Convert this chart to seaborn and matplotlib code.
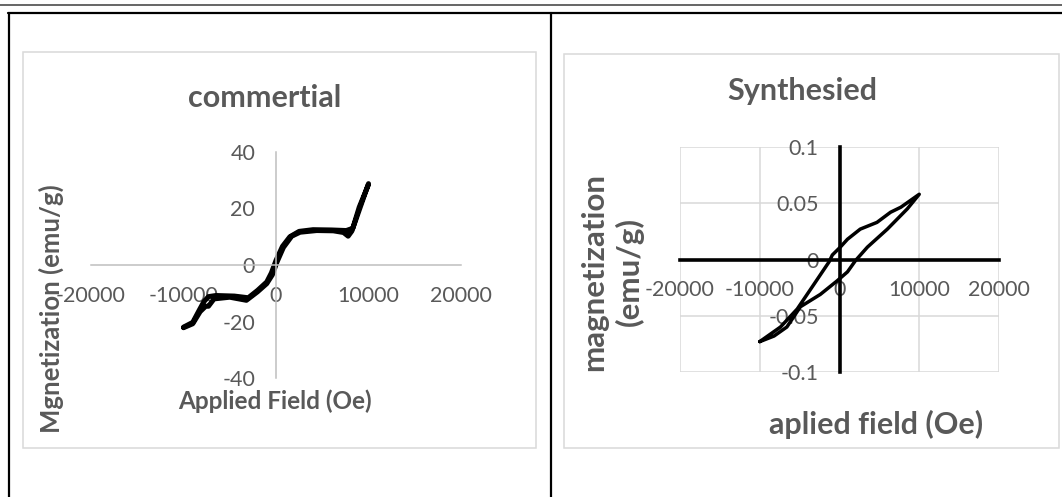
import matplotlib
matplotlib.use("Agg")
import matplotlib.pyplot as plt
import numpy as np
import pandas as pd
import seaborn as sns
from matplotlib.lines import Line2D
from matplotlib.patches import Rectangle

# ---- commercial sample: M-H loop (field in Oe, magnetization in emu/g) ----
field_up_c = [-10000, -9000, -8200, -7600, -7300, -6700, -5000, -3200, -2000, -1000,
              -400, 100, 800, 1700, 2600, 4400, 6200, 7300, 7800, 8200, 10000]
mag_up_c = [-22.2, -20.8, -16.5, -14.6, -14.6, -12.0, -11.4, -12.5, -9.5, -6.6,
            -3.5, 1.0, 6.2, 10.2, 11.6, 12.2, 12.1, 11.5, 10.2, 12.0, 28.8]
field_down_c = [10000, 9000, 8300, 7600, 6000, 4000, 2500, 1500, 700, 0, -500, -1000,
                -2000, -3000, -4500, -6500, -7300, -7800, -8300, -9000, -10000]
mag_down_c = [28.5, 20.5, 13.0, 12.2, 12.4, 12.5, 11.9, 10.0, 6.6, 1.6, -2.8, -6.0,
              -9.0, -11.6, -11.0, -10.8, -11.2, -13.0, -16.0, -20.3, -22.0]

# ---- synthesized sample: M-H loop ----
field_up_s = [-10000, -8200, -6600, -4900, -2400, -300, 1000, 2000, 3500, 6000, 8500, 10000]
mag_up_s = [-0.073, -0.068, -0.060, -0.042, -0.031, -0.019, -0.011, -0.001, 0.011, 0.027,
            0.045, 0.058]
field_down_s = [10000, 7700, 6400, 4700, 2600, 1000, 100, -900, -1300, -3200, -5300,
                -7400, -10000]
mag_down_s = [0.058, 0.0465, 0.042, 0.033, 0.027, 0.018, 0.011, 0.004, -0.002, -0.022,
              -0.044, -0.060, -0.073]

# ---- axes ticks and labels ----
x_ticks = [-20000, -10000, 0, 10000, 20000]
x_tick_labels = ["-20000", "-10000", "0", "10000", "20000"]
y_ticks_c = [-40, -20, 0, 20, 40]
y_tick_labels_c = ["-40", "-20", "0", "20", "40"]
y_ticks_s = [-0.1, -0.05, 0, 0.05, 0.1]
y_tick_labels_s = ["-0.1", "-0.05", "0", "0.05", "0.1"]

title_c = "commertial"
title_s = "Synthesied"
xlabel_c = "Applied Field (Oe)"
ylabel_c = "Mgnetization (emu/g)"
xlabel_s = "aplied field (Oe)"
ylabel_s = "magnetization\n(emu/g)"

sns.set_style("white")
plt.rcParams["font.family"] = ["Lato", "DejaVu Sans"]
plt.rcParams["axes.unicode_minus"] = False

TEXT = "#595959"
W, H = 1062, 497
fig = plt.figure(figsize=(W / 100, H / 100), dpi=100)


def fx(x):
    return x / W


def fy(y):
    return 1 - y / H


def box(l, t, r, b):
    return [l / W, 1 - b / H, (r - l) / W, (b - t) / H]


# document table rules
fig.add_artist(Line2D([0, 1], [fy(4.5)] * 2, color="#3c3c3c", lw=1.1))
fig.add_artist(Line2D([fx(8), 1], [fy(13)] * 2, color="black", lw=1.6))
fig.add_artist(Line2D([fx(8.5)] * 2, [fy(13), 0], color="black", lw=1.6))
fig.add_artist(Line2D([fx(551)] * 2, [fy(13), 0], color="black", lw=1.6))

# chart frames
for l, t, r, b in [(23, 52, 536, 448), (564, 54, 1059, 448)]:
    fig.add_artist(Rectangle((fx(l), fy(b)), (r - l) / W, (b - t) / H,
                             transform=fig.transFigure, fill=False,
                             ec="#d9d9d9", lw=1.1))

loop_c = pd.DataFrame({"field": field_up_c + field_down_c,
                       "mag": mag_up_c + mag_down_c})
loop_s = pd.DataFrame({"field": field_up_s + field_down_s,
                       "mag": mag_up_s + mag_down_s})

# ---------------- commercial chart ----------------
ax1 = fig.add_axes(box(91, 152, 461, 378))
sns.lineplot(data=loop_c, x="field", y="mag", sort=False, estimator=None,
             color="black", lw=3.6, ax=ax1)
ax1.lines[0].set_solid_joinstyle("round")
ax1.lines[0].set_solid_capstyle("round")
ax1.set_xlim(-20000, 20000)
ax1.set_ylim(-40, 40)
ax1.set_xticks(x_ticks, x_tick_labels)
ax1.set_yticks(y_ticks_c, y_tick_labels_c)
for side in ["top", "right"]:
    ax1.spines[side].set_visible(False)
for side in ["left", "bottom"]:
    ax1.spines[side].set_position(("data", 0))
    ax1.spines[side].set_color("#bfbfbf")
    ax1.spines[side].set_linewidth(1.1)
ax1.tick_params(axis="both", length=0, labelsize=15.5, labelcolor=TEXT)
ax1.tick_params(axis="x", pad=15)
ax1.tick_params(axis="y", pad=15)
ax1.set_xlabel("")
ax1.set_ylabel("")
ax1.patch.set_alpha(0)

fig.text(fx(265), fy(107), title_c, ha="center", va="baseline",
         fontsize=22, fontweight="bold", color=TEXT)
fig.text(fx(275), fy(409), xlabel_c, ha="center", va="baseline",
         fontsize=17.5, fontweight="bold", color=TEXT)
fig.text(fx(51), fy(309), ylabel_c, ha="center", va="center", rotation=90,
         fontsize=18.5, fontweight="bold", color=TEXT)

# ---------------- synthesized chart ----------------
ax2 = fig.add_axes(box(680, 147, 999, 372))
ax2.set_axisbelow(True)
sns.lineplot(data=loop_s, x="field", y="mag", sort=False, estimator=None,
             color="black", lw=2.5, ax=ax2, zorder=3)
ax2.lines[0].set_solid_joinstyle("round")
ax2.set_xlim(-20000, 20000)
ax2.set_ylim(-0.1, 0.1)
ax2.set_xticks(x_ticks, x_tick_labels)
ax2.set_yticks(y_ticks_s, y_tick_labels_s)
ax2.grid(True, color="#d9d9d9", lw=1.1)
for side in ["top", "right"]:
    ax2.spines[side].set_visible(False)
for side in ["left", "bottom"]:
    ax2.spines[side].set_position(("data", 0))
    ax2.spines[side].set_color("black")
    ax2.spines[side].set_linewidth(2.6)
    ax2.spines[side].set_zorder(2.5)
ax2.tick_params(axis="both", length=0, labelsize=15.5, labelcolor=TEXT)
ax2.tick_params(axis="x", pad=15)
ax2.tick_params(axis="y", pad=15)
ax2.set_xlabel("")
ax2.set_ylabel("")
ax2.patch.set_alpha(0)

fig.text(fx(802), fy(100), title_s, ha="center", va="baseline",
         fontsize=22, fontweight="bold", color=TEXT)
fig.text(fx(876), fy(434), xlabel_s, ha="center", va="baseline",
         fontsize=22, fontweight="bold", color=TEXT)
fig.text(fx(612), fy(272), ylabel_s, ha="center", va="center", rotation=90,
         fontsize=22.5, fontweight="bold", color=TEXT, linespacing=1.3)

fig.savefig("out.png", dpi=100)
